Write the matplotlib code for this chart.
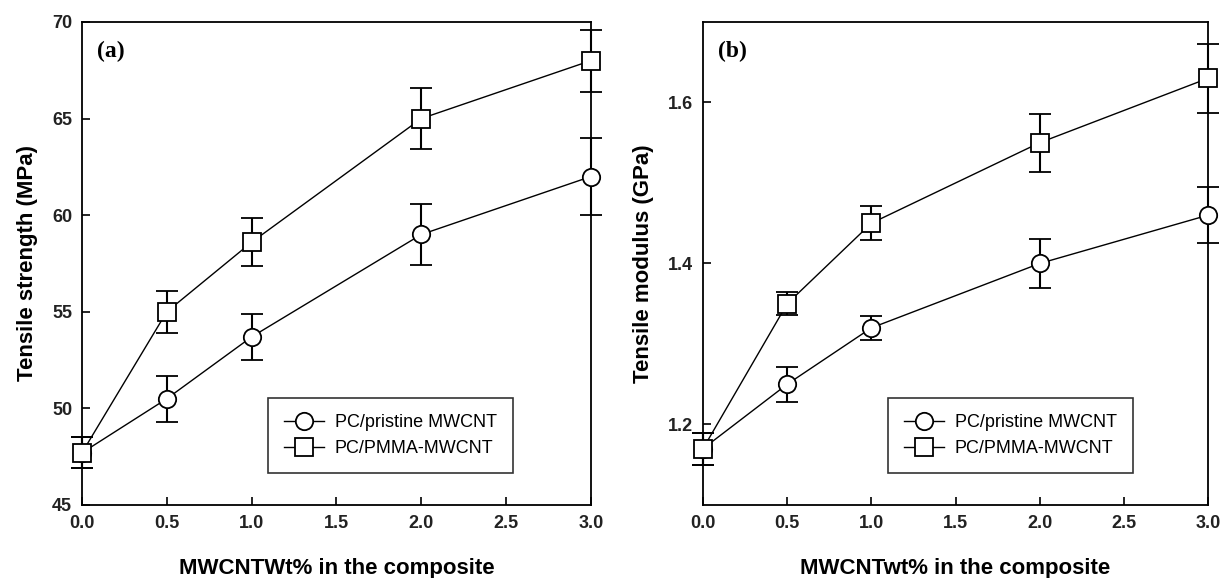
import matplotlib
matplotlib.use("Agg")
import matplotlib.pyplot as plt
from matplotlib.lines import Line2D

x = [0.0, 0.5, 1.0, 2.0, 3.0]

# Panel (a): tensile strength (MPa)
ts_pristine = [47.7, 50.5, 53.7, 59.0, 62.0]
ts_pristine_err = [0.8, 1.2, 1.2, 1.6, 2.0]
ts_pmma = [47.7, 55.0, 58.6, 65.0, 68.0]
ts_pmma_err = [0.8, 1.1, 1.25, 1.6, 1.6]

# Panel (b): tensile modulus (GPa)
tm_pristine = [1.17, 1.25, 1.32, 1.40, 1.46]
tm_pristine_err = [0.02, 0.022, 0.015, 0.03, 0.035]
tm_pmma = [1.17, 1.35, 1.45, 1.55, 1.63]
tm_pmma_err = [0.02, 0.014, 0.021, 0.036, 0.043]

legend_labels = ["PC/pristine MWCNT", "PC/PMMA-MWCNT"]
xticks = [0.0, 0.5, 1.0, 1.5, 2.0, 2.5, 3.0]

plt.rcParams['font.family'] = ['Liberation Sans', 'DejaVu Sans']

fig = plt.figure(figsize=(12.25, 5.78), dpi=100)
axa = fig.add_axes([0.0669, 0.1263, 0.4155, 0.8357])
axb = fig.add_axes([0.5739, 0.1263, 0.4122, 0.8357])

CIRC = 12.5
SQ = 12.5


def panel(ax, y1, e1, y2, e2, ylim, yticks, yfmt, ylabel, xlabel, tag, leg_bbox):
    kw = dict(color='black', lw=1.0, elinewidth=1.5, capsize=8, capthick=1.5,
              markerfacecolor='white', markeredgecolor='black', markeredgewidth=1.3)
    ax.errorbar(x, y1, yerr=e1, marker='o', markersize=CIRC,
                clip_on=False, zorder=3, **kw)
    ax.errorbar(x, y2, yerr=e2, marker='s', markersize=SQ,
                clip_on=False, zorder=4, **kw)
    ax.set_xlim(0, 3.0)
    ax.set_ylim(*ylim)
    ax.set_xticks(xticks)
    ax.set_xticklabels([f"{v:.1f}" for v in xticks])
    ax.set_yticks(yticks)
    ax.set_yticklabels([yfmt.format(v) for v in yticks])
    ax.tick_params(direction='in', length=6, width=1.2, labelsize=13, pad=7,
                   top=False, right=False)
    for lab in ax.get_xticklabels() + ax.get_yticklabels():
        lab.set_fontweight('bold')
        lab.set_color('#222222')
    for s in ax.spines.values():
        s.set_linewidth(1.3)
    ax.set_xlabel(xlabel, fontsize=16, fontweight='bold', labelpad=19)
    ax.set_ylabel(ylabel, fontsize=16, fontweight='bold', labelpad=10)
    ax.text(0.03, 0.96, tag, transform=ax.transAxes, fontsize=17, fontweight='bold',
            family=['Liberation Serif', 'DejaVu Serif'], va='top', ha='left')
    handles = [
        Line2D([], [], color='black', lw=1.0, marker='o', markersize=CIRC,
               markerfacecolor='white', markeredgecolor='black', markeredgewidth=1.3),
        Line2D([], [], color='black', lw=1.0, marker='s', markersize=SQ,
               markerfacecolor='white', markeredgecolor='black', markeredgewidth=1.3),
    ]
    leg = ax.legend(handles, legend_labels, loc='lower left', bbox_to_anchor=leg_bbox,
                    borderaxespad=0, frameon=True, fancybox=False, edgecolor='black',
                    fontsize=13, handlelength=2.2, borderpad=0.9, labelspacing=0.5,
                    handletextpad=0.6)
    leg.get_frame().set_linewidth(1.2)


panel(axa, ts_pristine, ts_pristine_err, ts_pmma, ts_pmma_err, (45, 70),
      [45, 50, 55, 60, 65, 70], "{:.0f}", "Tensile strength (MPa)",
      "MWCNTWt% in the composite", "(a)", (0.365, 0.066))
panel(axb, tm_pristine, tm_pristine_err, tm_pmma, tm_pmma_err, (1.1, 1.7),
      [1.2, 1.4, 1.6], "{:.1f}", "Tensile modulus (GPa)",
      "MWCNTwt% in the composite", "(b)", (0.366, 0.066))

fig.savefig("out.png", dpi=100)
